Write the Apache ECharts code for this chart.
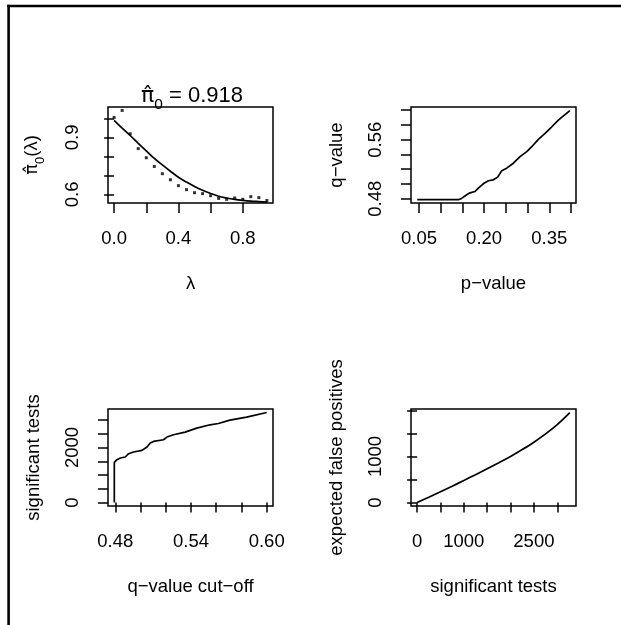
<!DOCTYPE html>
<html><head><meta charset="utf-8">
<script src="https://cdn.jsdelivr.net/npm/echarts@6/dist/echarts.min.js"></script>
<style>html,body{margin:0;padding:0;background:#fff}#c{width:621px;height:625px}</style>
</head><body><div id="c"></div>
<script>
// ---- Panel 1: pi0 estimate vs lambda ----
const lambda     = [0.00,0.05,0.10,0.15,0.20,0.25,0.30,0.35,0.40,0.45,0.50,0.55,0.60,0.65,0.70,0.75,0.80,0.85,0.90,0.95];
const pi0Raw     = [1.005,1.042,0.919,0.841,0.793,0.747,0.709,0.677,0.646,0.625,0.609,0.604,0.593,0.579,0.574,0.581,0.574,0.588,0.583,0.568];
const pi0Smooth  = [0.989,0.949,0.910,0.869,0.829,0.790,0.755,0.722,0.690,0.665,0.642,0.622,0.605,0.590,0.581,0.574,0.569,0.565,0.562,0.559];
const pi0Title   = '0.918';
// ---- Panel 2: q-value vs p-value ----
const pValue = [0.046,0.1406,0.148,0.160,0.1675,0.179,0.1867,0.198,0.2097,0.2212,0.2313,0.2405,0.252,0.2673,0.2827,0.2982,0.3097,0.3249,0.3403,0.3558,0.371,0.3848,0.3975];
const qValue = [0.4787,0.4787,0.4804,0.4854,0.4880,0.4898,0.4944,0.5002,0.5043,0.5056,0.5093,0.5178,0.5214,0.5281,0.5370,0.5438,0.5505,0.5605,0.5686,0.5775,0.5865,0.5933,0.5995];
// ---- Panel 3: significant tests vs q-value cut-off ----
const qCutoff  = [0.4792,0.4792,0.4813,0.4840,0.4879,0.4905,0.4945,0.5011,0.5051,0.5077,0.5103,0.5182,0.5209,0.5261,0.5353,0.5446,0.5551,0.5617,0.5709,0.5841,0.6000];
const nSigCut  = [0,1460,1558,1618,1655,1775,1836,1896,2017,2162,2222,2283,2380,2464,2560,2705,2826,2874,2996,3105,3272];
// ---- Panel 4: expected false positives vs significant tests ----
const nSigTests   = [0,250,500,750,1000,1250,1500,1750,2000,2250,2500,2750,3000,3270];
const expFalsePos = [0,115,235,355,478,605,735,865,1000,1150,1310,1490,1690,1950];
// ---- Tick values and labels ----
const p1xTicks = [0,0.2,0.4,0.6,0.8],  p1xLabels = [0,0.4,0.8];
const p1yTicks = [0.6,0.7,0.8,0.9,1.0], p1yLabels = [0.6,0.9];
const p2xTicks = [0.05,0.10,0.15,0.20,0.25,0.30,0.35,0.40], p2xLabels = [0.05,0.20,0.35];
const p2yTicks = [0.48,0.50,0.52,0.54,0.56,0.58,0.60], p2yLabels = [0.48,0.56];
const p3xTicks = [0.48,0.50,0.52,0.54,0.56,0.58,0.60], p3xLabels = [0.48,0.54,0.60];
const p3yTicks = [0,500,1000,1500,2000,2500,3000], p3yLabels = [0,2000];
const p4xTicks = [0,500,1000,1500,2000,2500,3000], p4xLabels = [0,1000,2500];
const p4yTicks = [0,500,1000,1500,2000], p4yLabels = [0,1000];

const FONT = '"Liberation Sans", Arial, Helvetica, sans-serif';
const PIFONT = '"DejaVu Sans", sans-serif';
const FS = 18.5;
const zip = (a, b) => a.map((v, i) => [v, b[i]]);

function xAx(gi, min, max, ticks, labels, dec, name) {
  return {
    type: 'value', gridIndex: gi, min, max, position: 'bottom',
    axisLine: { show: false },
    splitLine: { show: false },
    axisTick: { show: true, customValues: ticks, length: 10, lineStyle: { color: '#000', width: 1.5 } },
    axisLabel: { show: true, customValues: labels, margin: 26, color: '#000', fontSize: FS, fontFamily: FONT,
      formatter: v => v.toFixed(dec) },
    name, nameLocation: 'middle', nameGap: 71,
    nameTextStyle: { color: '#000', fontSize: FS, fontFamily: FONT }
  };
}
function yAx(gi, min, max, ticks, labels, dec, name, richName, gap) {
  const o = {
    type: 'value', gridIndex: gi, min, max, position: 'left',
    axisLine: { show: false },
    splitLine: { show: false },
    axisTick: { show: true, customValues: ticks, length: 10, lineStyle: { color: '#000', width: 1.5 } },
    axisLabel: { show: true, customValues: labels, margin: 26, rotate: 90, color: '#000', fontSize: FS, fontFamily: FONT,
      formatter: v => v.toFixed(dec) },
    name, nameLocation: 'middle', nameGap: gap || 65,
    nameTextStyle: { color: '#000', fontSize: FS, fontFamily: FONT }
  };
  if (richName) o.nameTextStyle.rich = richName;
  return o;
}
const richPi = {
  g: { fontSize: 18, fontFamily: PIFONT, color: '#000', lineHeight: 30 },
  p: { fontSize: FS, fontFamily: FONT, color: '#000', lineHeight: 30 },
  s: { fontSize: 13, fontFamily: FONT, color: '#000', lineHeight: 22, verticalAlign: 'bottom' }
};
const richTitle = {
  g: { fontSize: 22, fontFamily: PIFONT, color: '#000', lineHeight: 34, fontWeight: 'normal' },
  p: { fontSize: 22, fontFamily: FONT, color: '#000', lineHeight: 34, fontWeight: 'normal' },
  s: { fontSize: 15.5, fontFamily: FONT, color: '#000', lineHeight: 24, verticalAlign: 'bottom', fontWeight: 'normal' }
};

const lineStyle = { color: '#000', width: 1.7 };
const grids = [
  { left: 108, top: 107, width: 165, height: 96 },
  { left: 411, top: 107, width: 165, height: 96 },
  { left: 108, top: 409, width: 165, height: 97 },
  { left: 411, top: 409, width: 165, height: 97 }
].map(g => Object.assign(g, { show: true, borderColor: '#000', borderWidth: 1.5, backgroundColor: 'transparent' }));

const option = {
  animation: false,
  backgroundColor: '#fff',
  title: {
    text: '{g|π\u0302}{s|0}{p| = ' + pi0Title + '}',
    left: 187, top: 74, textAlign: 'center',
    textStyle: { rich: richTitle, fontFamily: FONT, fontSize: 22, fontWeight: 'normal', color: '#000' }
  },
  grid: grids,
  xAxis: [
    xAx(0, -0.038, 0.988, p1xTicks, p1xLabels, 1, 'λ'),
    xAx(1, 0.0316, 0.4116, p2xTicks, p2xLabels, 2, 'p\u2212value'),
    xAx(2, 0.4742, 0.6050, p3xTicks, p3xLabels, 2, 'q\u2212value cut\u2212off'),
    xAx(3, -131, 3401, p4xTicks, p4xLabels, 0, 'significant tests')
  ],
  yAxis: [
    yAx(0, 0.5547, 1.060, p1yTicks, p1yLabels, 1, '{g|π\u0302}{s|0}{p|(λ)}', richPi, 61),
    yAx(1, 0.4742, 0.6043, p2yTicks, p2yLabels, 2, 'q\u2212value'),
    yAx(2, -125, 3400, p3yTicks, p3yLabels, 0, 'significant tests'),
    yAx(3, -75, 2030, p4yTicks, p4yLabels, 0, 'expected false positives')
  ],
  series: [
    { type: 'scatter', xAxisIndex: 0, yAxisIndex: 0, data: zip(lambda, pi0Raw), symbol: 'rect', symbolSize: 3, itemStyle: { color: '#000' } },
    { type: 'line', xAxisIndex: 0, yAxisIndex: 0, data: zip(lambda, pi0Smooth), showSymbol: false, smooth: 0.3, lineStyle },
    { type: 'line', xAxisIndex: 1, yAxisIndex: 1, data: zip(pValue, qValue), showSymbol: false, lineStyle },
    { type: 'line', xAxisIndex: 2, yAxisIndex: 2, data: zip(qCutoff, nSigCut), showSymbol: false, lineStyle },
    { type: 'line', xAxisIndex: 3, yAxisIndex: 3, data: zip(nSigTests, expFalsePos), showSymbol: false, smooth: 0.3, lineStyle }
  ],
  graphic: [
    { type: 'line', shape: { x1: 8.6, y1: 4.7, x2: 8.6, y2: 625 }, style: { stroke: '#000', lineWidth: 2.6 } },
    { type: 'line', shape: { x1: 7.3, y1: 6, x2: 621, y2: 6 }, style: { stroke: '#000', lineWidth: 2.6 } }
  ]
};
const chart = echarts.init(document.getElementById('c'), null, { renderer: 'canvas' });
chart.setOption(option);
</script></body></html>
